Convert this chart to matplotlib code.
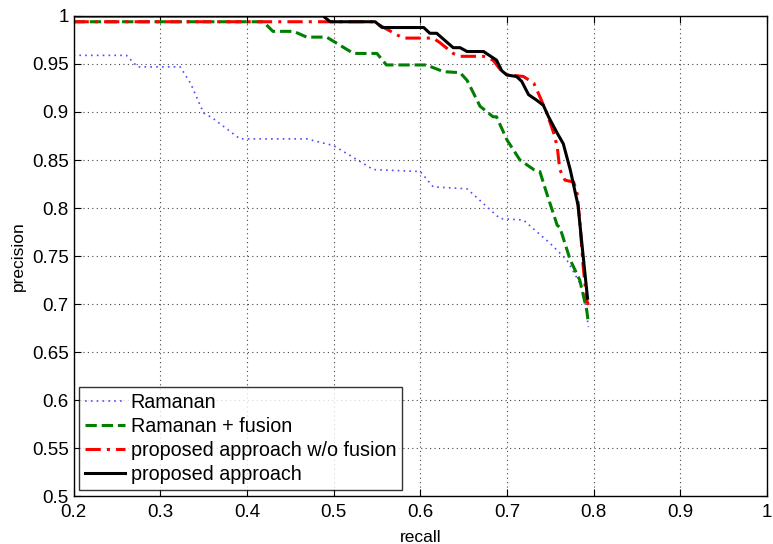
import matplotlib
matplotlib.use("Agg")
import matplotlib.pyplot as plt

plt.rcParams['font.family'] = ['Liberation Sans', 'DejaVu Sans']

# Ramanan
ram_recall = [0.2, 0.261, 0.274, 0.323, 0.335, 0.35, 0.36, 0.392, 0.469, 0.5, 0.546,
              0.6, 0.615, 0.654, 0.692, 0.719, 0.75, 0.769, 0.784, 0.790, 0.794]
ram_prec = [0.959, 0.959, 0.947, 0.947, 0.93, 0.899, 0.894, 0.872, 0.872, 0.865, 0.840,
            0.838, 0.822, 0.820, 0.789, 0.7875, 0.763, 0.746, 0.722, 0.704, 0.676]

# Ramanan + fusion
fus_recall = [0.2, 0.419, 0.43, 0.454, 0.469, 0.492, 0.523, 0.55, 0.561, 0.607, 0.627,
              0.646, 0.654, 0.669, 0.684, 0.688, 0.700, 0.715, 0.731, 0.738, 0.746,
              0.758, 0.761, 0.773, 0.784, 0.792, 0.794]
fus_prec = [0.994, 0.994, 0.984, 0.984, 0.978, 0.978, 0.961, 0.961, 0.949, 0.949, 0.942,
            0.941, 0.933, 0.906, 0.895, 0.895, 0.871, 0.85, 0.84, 0.838, 0.815,
            0.782, 0.78, 0.746, 0.725, 0.694, 0.68]

# proposed approach w/o fusion
nof_recall = [0.2, 0.546, 0.58, 0.615, 0.623, 0.638, 0.646, 0.673, 0.684, 0.696, 0.704,
              0.719, 0.731, 0.738, 0.746, 0.754, 0.758, 0.761, 0.767, 0.777, 0.781,
              0.784, 0.788, 0.792, 0.794]
nof_prec = [0.994, 0.994, 0.977, 0.977, 0.972, 0.961, 0.958, 0.958, 0.954, 0.940, 0.9385,
            0.937, 0.93, 0.916, 0.899, 0.878, 0.864, 0.84, 0.829, 0.827, 0.815,
            0.787, 0.739, 0.704, 0.699]

# proposed approach
prop_recall = [0.2, 0.488, 0.496, 0.548, 0.556, 0.604, 0.611, 0.619, 0.638, 0.646, 0.654,
               0.673, 0.688, 0.694, 0.700, 0.711, 0.717, 0.725, 0.734, 0.742, 0.748,
               0.758, 0.765, 0.773, 0.782, 0.786, 0.790, 0.793]
prop_prec = [1.0, 1.0, 0.994, 0.994, 0.988, 0.988, 0.982, 0.982, 0.967, 0.967, 0.963,
             0.963, 0.954, 0.943, 0.9385, 0.937, 0.932, 0.918, 0.9125, 0.907, 0.895,
             0.878, 0.867, 0.84, 0.803, 0.767, 0.732, 0.706]

fig = plt.figure(figsize=(7.73, 5.44), dpi=100)
ax = fig.add_axes([0.0951, 0.0882, 0.8971, 0.8824])

ax.plot(ram_recall, ram_prec, linestyle=(0, (1, 2.5)), color='#4d4dff', lw=1.2, label='Ramanan')
ax.plot(fus_recall, fus_prec, '--', color='#007f00', lw=2.2, label='Ramanan + fusion')
ax.plot(nof_recall, nof_prec, linestyle=(0, (5, 2, 1, 2)), color='#ff0000', lw=2.2,
        label='proposed approach w/o fusion')
ax.plot(prop_recall, prop_prec, '-', color='black', lw=2.2, label='proposed approach')

ax.set_xlim(0.2, 1)
ax.set_ylim(0.5, 1)
ax.set_xticks([0.2, 0.3, 0.4, 0.5, 0.6, 0.7, 0.8, 0.9, 1])
ax.set_xticklabels(['0.2', '0.3', '0.4', '0.5', '0.6', '0.7', '0.8', '0.9', '1'])
ax.set_yticks([0.5, 0.55, 0.6, 0.65, 0.7, 0.75, 0.8, 0.85, 0.9, 0.95, 1])
ax.set_yticklabels(['0.5', '0.55', '0.6', '0.65', '0.7', '0.75', '0.8', '0.85', '0.9', '0.95', '1'])
ax.tick_params(direction='in', labelsize=13.5, length=5, top=True, right=True)
ax.tick_params(axis='x', pad=6)
ax.grid(True, linestyle=(0, (1, 3)), color='#444444', lw=0.8)
for s in ax.spines.values():
    s.set_linewidth(1)

ax.set_xlabel('recall', fontsize=12.5, labelpad=6)
ax.set_ylabel('precision', fontsize=12.5, labelpad=4)

leg = ax.legend(loc='lower left', fontsize=14.2, frameon=True, fancybox=False,
                edgecolor='black', handlelength=2.0, handletextpad=0.3,
                borderpad=0.3, labelspacing=0.25, borderaxespad=0.3)
leg.get_frame().set_linewidth(1)

fig.savefig('out.png', dpi=100)
